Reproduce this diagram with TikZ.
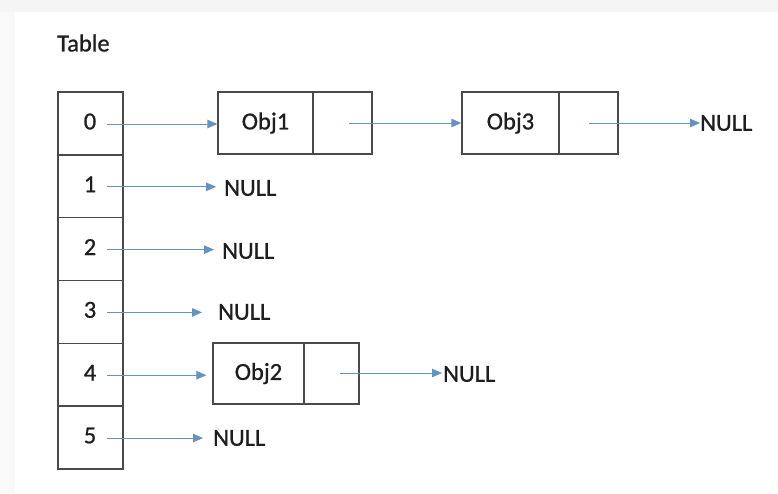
\documentclass[tikz,border=0pt]{standalone}
\usepackage{fontspec}
\setmainfont{Carlito}
\newfontfamily\lblfont{Carlito}[FakeBold=0.8]
\usetikzlibrary{arrows.meta}
\definecolor{boxline}{HTML}{4A4A4A}
\definecolor{arrowc}{HTML}{6592BE}
\definecolor{txt}{HTML}{1E1E1E}
\begin{document}
\begin{tikzpicture}[x=1pt,y=-1pt,
  lbl/.style={font=\lblfont\fontsize{24.5}{28}\selectfont, text=txt},
  cell/.style={draw=boxline, line width=1.4pt, minimum width=65pt, minimum height=62.8pt, inner sep=0pt, lbl},
  objpart/.style={draw=boxline, line width=1.4pt, minimum height=62pt, inner sep=0pt, lbl},
  nullnode/.style={lbl, inner sep=0pt, anchor=west},
  ptr/.style={draw=arrowc, line width=0.9pt, -{Triangle[length=10pt,width=8.5pt]}}
]
\useasboundingbox (0,0) rectangle (778,493);
\fill[white] (0,0) rectangle (778,493);
\fill[black!4] (0,0) rectangle (778,12);
\fill[black!2.5] (0,12) rectangle (15,493);

\node[lbl, anchor=west, inner sep=0pt] (title) at (57,43) {Table};

% table cells
\foreach \i in {0,...,5} {
  \node[cell] (r\i) at (90.5, {123.5+62.8*\i}) {};
  \node[lbl, inner sep=0pt] (d\i) at (90, {121.5+62.8*\i}) {\i};
  \coordinate (s\i) at (107, {124+62.8*\i});
}

% object boxes
\node[objpart, minimum width=95pt] (o1) at (265.5,123) {Obj1};
\node[objpart, minimum width=59pt] (o1p) at (342.5,123) {};
\node[objpart, minimum width=97pt] (o3) at (510.5,123) {Obj3};
\node[objpart, minimum width=59pt] (o3p) at (588.5,123) {};
\node[objpart, minimum width=91pt, minimum height=61pt] (o2) at (258.5,373.5) {Obj2};
\node[objpart, minimum width=55pt, minimum height=61pt] (o2p) at (331.5,373.5) {};

% NULL labels
\node[nullnode] (n1) at (224,188) {NULL};
\node[nullnode] (n2) at (222,251) {NULL};
\node[nullnode] (n3) at (218,312) {NULL};
\node[nullnode] (n5) at (213,438) {NULL};
\node[nullnode] (n3b) at (700,123) {NULL};
\node[nullnode] (n2b) at (443,374) {NULL};

% pointer coordinates
\coordinate (p1) at (349,123);
\coordinate (p3) at (589,123);
\coordinate (p2) at (340,373);

% arrows
\draw[ptr] (s0) -- (o1.west |- s0);
\draw[ptr] (s1) -- ([xshift=-8pt]n1.west |- s1);
\draw[ptr] (s2) -- ([xshift=-8pt]n2.west |- s2);
\draw[ptr] (s3) -- ([xshift=-16pt]n3.west |- s3);
\draw[ptr] (s4) -- ([xshift=-6pt]o2.west |- s4);
\draw[ptr] (s5) -- ([xshift=-10pt]n5.west |- s5);
\draw[ptr] (p1) -- (o3.west |- p1);
\draw[ptr] (p3) -- (n3b.west |- p3);
\draw[ptr] (p2) -- ([xshift=-1pt]n2b.west |- p2);
\end{tikzpicture}
\end{document}
